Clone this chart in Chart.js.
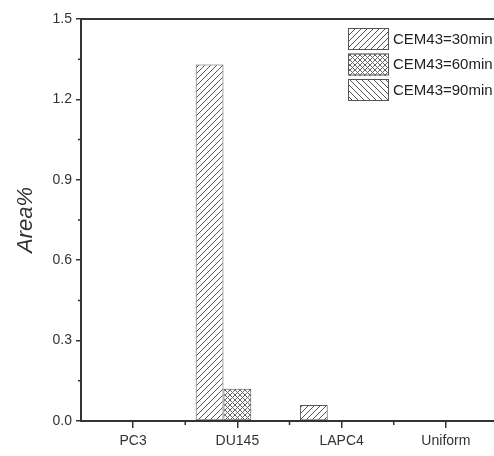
<!DOCTYPE html>
<html>
<head>
<meta charset="utf-8">
<script src="https://cdn.jsdelivr.net/npm/chart.js@4"></script>
<style>
  html, body { margin: 0; padding: 0; background: #fff; overflow: hidden; }
  #wrap { width: 494px; height: 456px; overflow: hidden; }
</style>
</head>
<body>
<div id="wrap"><canvas id="chart" width="500" height="456"></canvas></div>
<script>
// cell lines on the x axis
const cellLines = ['PC3', 'DU145', 'LAPC4', 'Uniform'];
// area % per heating duration
const area30 = [0, 1.33, 0.06, 0];
const area60 = [0, 0.12, 0, 0];
const area90 = [0, 0, 0, 0];
const seriesLabels = ['CEM43=30min', 'CEM43=60min', 'CEM43=90min'];
const yTicks = [0, 0.3, 0.6, 0.9, 1.2, 1.5];

const INK = '#333';
const HATCH = '#555';

// small repeating hatch tiles
function makePattern(kind) {
    const size = kind === 'cross' ? 5 : 6;
    const c = document.createElement('canvas');
    c.width = size; c.height = size;
    const g = c.getContext('2d');
    g.fillStyle = '#fff';
    g.fillRect(0, 0, size, size);
    g.strokeStyle = kind === 'cross' ? '#666' : HATCH;
    g.lineWidth = 1;
    const up = () => {
        g.beginPath();
        g.moveTo(-1, size + 1); g.lineTo(size + 1, -1);
        g.moveTo(-1, 1); g.lineTo(1, -1);
        g.moveTo(size - 1, size + 1); g.lineTo(size + 1, size - 1);
        g.stroke();
    };
    const down = () => {
        g.beginPath();
        g.moveTo(-1, -1); g.lineTo(size + 1, size + 1);
        g.moveTo(size - 1, -1); g.lineTo(size + 1, 1);
        g.moveTo(-1, size - 1); g.lineTo(1, size + 1);
        g.stroke();
    };
    if (kind === 'up' || kind === 'cross') up();
    if (kind === 'down' || kind === 'cross') down();
    return g.createPattern(c, 'repeat');
}

const fills = [makePattern('up'), makePattern('cross'), makePattern('down')];

// frame top line, minor ticks and the boxed legend
const extras = {
    id: 'extras',
    afterDraw(chart) {
        const ctx = chart.ctx;
        const a = chart.chartArea;
        const x = chart.scales.x;
        const y = chart.scales.y;
        ctx.save();
        ctx.strokeStyle = INK;
        ctx.lineWidth = 2;
        ctx.beginPath();
        ctx.moveTo(a.left - 1, a.top);
        ctx.lineTo(a.right, a.top);
        ctx.stroke();

        ctx.lineWidth = 1.5;
        ctx.beginPath();
        for (let i = 0; i < cellLines.length - 1; i++) {
            const px = (x.getPixelForValue(i) + x.getPixelForValue(i + 1)) / 2;
            ctx.moveTo(px, a.bottom);
            ctx.lineTo(px, a.bottom + 4);
        }
        for (let i = 0; i < yTicks.length - 1; i++) {
            const py = y.getPixelForValue((yTicks[i] + yTicks[i + 1]) / 2);
            ctx.moveTo(a.left, py);
            ctx.lineTo(a.left - 3, py);
        }
        ctx.stroke();

        ctx.font = '15px "Liberation Sans", Arial, sans-serif';
        ctx.textBaseline = 'middle';
        ctx.textAlign = 'left';
        chart.data.datasets.forEach((ds, i) => {
            const top = 28 + i * 25.5;
            ctx.fillStyle = ds.backgroundColor;
            ctx.fillRect(348, top, 41, 22);
            ctx.strokeStyle = HATCH;
            ctx.lineWidth = 1;
            ctx.strokeRect(348.5, top + 0.5, 40, 21);
            ctx.fillStyle = '#222';
            ctx.fillText(ds.label, 393, top + 11.5);
        });
        ctx.restore();
    }
};

new Chart(document.getElementById('chart'), {
    type: 'bar',
    data: {
        labels: cellLines,
        datasets: [area30, area60, area90].map((d, i) => ({
            label: seriesLabels[i],
            data: d,
            backgroundColor: fills[i],
            borderColor: HATCH,
            borderWidth: 1,
            borderSkipped: false,
            barPercentage: 1,
            categoryPercentage: 0.8
        }))
    },
    options: {
        responsive: false,
        animation: false,
        layout: { padding: { top: 19, right: 2 } },
        plugins: { legend: { display: false }, tooltip: { enabled: false } },
        scales: {
            x: {
                afterFit: s => { s.height = 35; },
                grid: { offset: false, drawOnChartArea: false, tickLength: 7, color: INK, lineWidth: 1.5 },
                border: { color: INK, width: 2 },
                ticks: {
                    color: INK, padding: 5,
                    font: { family: '"Liberation Sans", Arial, sans-serif', size: 14 }
                }
            },
            y: {
                min: 0, max: 1.5,
                afterFit: s => { s.width = 81; },
                afterBuildTicks: s => { s.ticks = yTicks.map(v => ({ value: v })); },
                grid: { drawOnChartArea: false, tickLength: 5, color: INK, lineWidth: 1.5 },
                border: { color: INK, width: 2 },
                ticks: {
                    color: INK, padding: 4,
                    font: { family: '"Liberation Sans", Arial, sans-serif', size: 14 },
                    callback: v => Number(v).toFixed(1)
                },
                title: {
                    display: true, text: 'Area%', color: INK,
                    padding: { top: 13, bottom: 0 },
                    font: { family: '"Liberation Sans", Arial, sans-serif', size: 22, style: 'italic' }
                }
            }
        }
    },
    plugins: [extras]
});
</script>
</body>
</html>
